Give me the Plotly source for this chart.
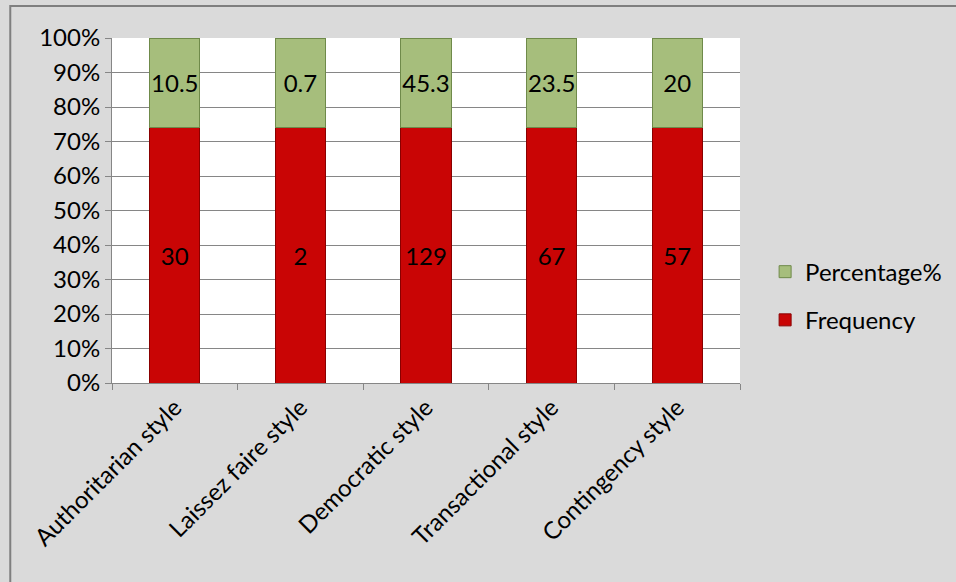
import plotly.graph_objects as go

categories = ["Authoritarian style", "Laissez faire style", "Democratic style",
              "Transactional style", "Contingency style"]
frequency = [30, 2, 129, 67, 57]
percentage = [10.5, 0.7, 45.3, 23.5, 20]
y_ticks = [0, 10, 20, 30, 40, 50, 60, 70, 80, 90, 100]
y_tick_labels = [f"{v}%" for v in y_ticks]

font_family = "Lato, 'Open Sans', sans-serif"
fs = 24

fig = go.Figure()
fig.add_trace(go.Bar(
    x=categories, y=frequency, name="Frequency",
    text=[str(v) for v in frequency], texttemplate="%{text}",
    textposition="inside", insidetextanchor="middle", constraintext="none",
    textangle=0,
    textfont=dict(color="black", size=fs, family=font_family),
    marker=dict(color="#c90505", line=dict(color="#8a0000", width=1)),
    width=0.4, legendrank=2, legendgroup="f",
))
fig.add_trace(go.Bar(
    x=categories, y=percentage, name="Percentage%",
    text=[str(v) for v in percentage], texttemplate="%{text}",
    textposition="inside", insidetextanchor="middle", constraintext="none",
    textangle=0,
    textfont=dict(color="black", size=fs, family=font_family),
    marker=dict(color="#a6be7c", line=dict(color="#6f8a4a", width=1)),
    width=0.4, legendrank=1, legendgroup="p",
))

fig.update_layout(
    width=956, height=582,
    barmode="stack", barnorm="percent",
    paper_bgcolor="#dadada", plot_bgcolor="white",
    margin=dict(l=112, r=216, t=38, b=199, autoexpand=False),
    font=dict(family=font_family, size=fs, color="black"),
    showlegend=True,
    legend=dict(x=1.04, y=0.252, xanchor="left", yanchor="middle",
                traceorder="grouped", tracegroupgap=14,
                bgcolor="rgba(0,0,0,0)", font=dict(size=fs),
                itemwidth=30),
    xaxis=dict(showline=True, linecolor="#868686", linewidth=1,
               ticks="outside", tickcolor="#868686", ticklen=6,
               tickson="boundaries", tickangle=-45,
               tickfont=dict(size=fs), showgrid=False),
    yaxis=dict(range=[0, 100], tickvals=y_ticks, ticktext=y_tick_labels,
               showline=True, linecolor="#868686", linewidth=1,
               ticks="outside", tickcolor="#868686", ticklen=6,
               gridcolor="#868686", gridwidth=1,
               tickfont=dict(size=fs)),
    shapes=[dict(type="rect", xref="paper", yref="paper",
                 x0=-0.162, x1=1.36, y0=-0.62, y1=1.093,
                 line=dict(color="#7f7f7f", width=2))],
)

fig.write_html("out.html", config={"displayModeBar": False},
               post_script="document.body.style.margin='0';document.body.style.padding='0';")
